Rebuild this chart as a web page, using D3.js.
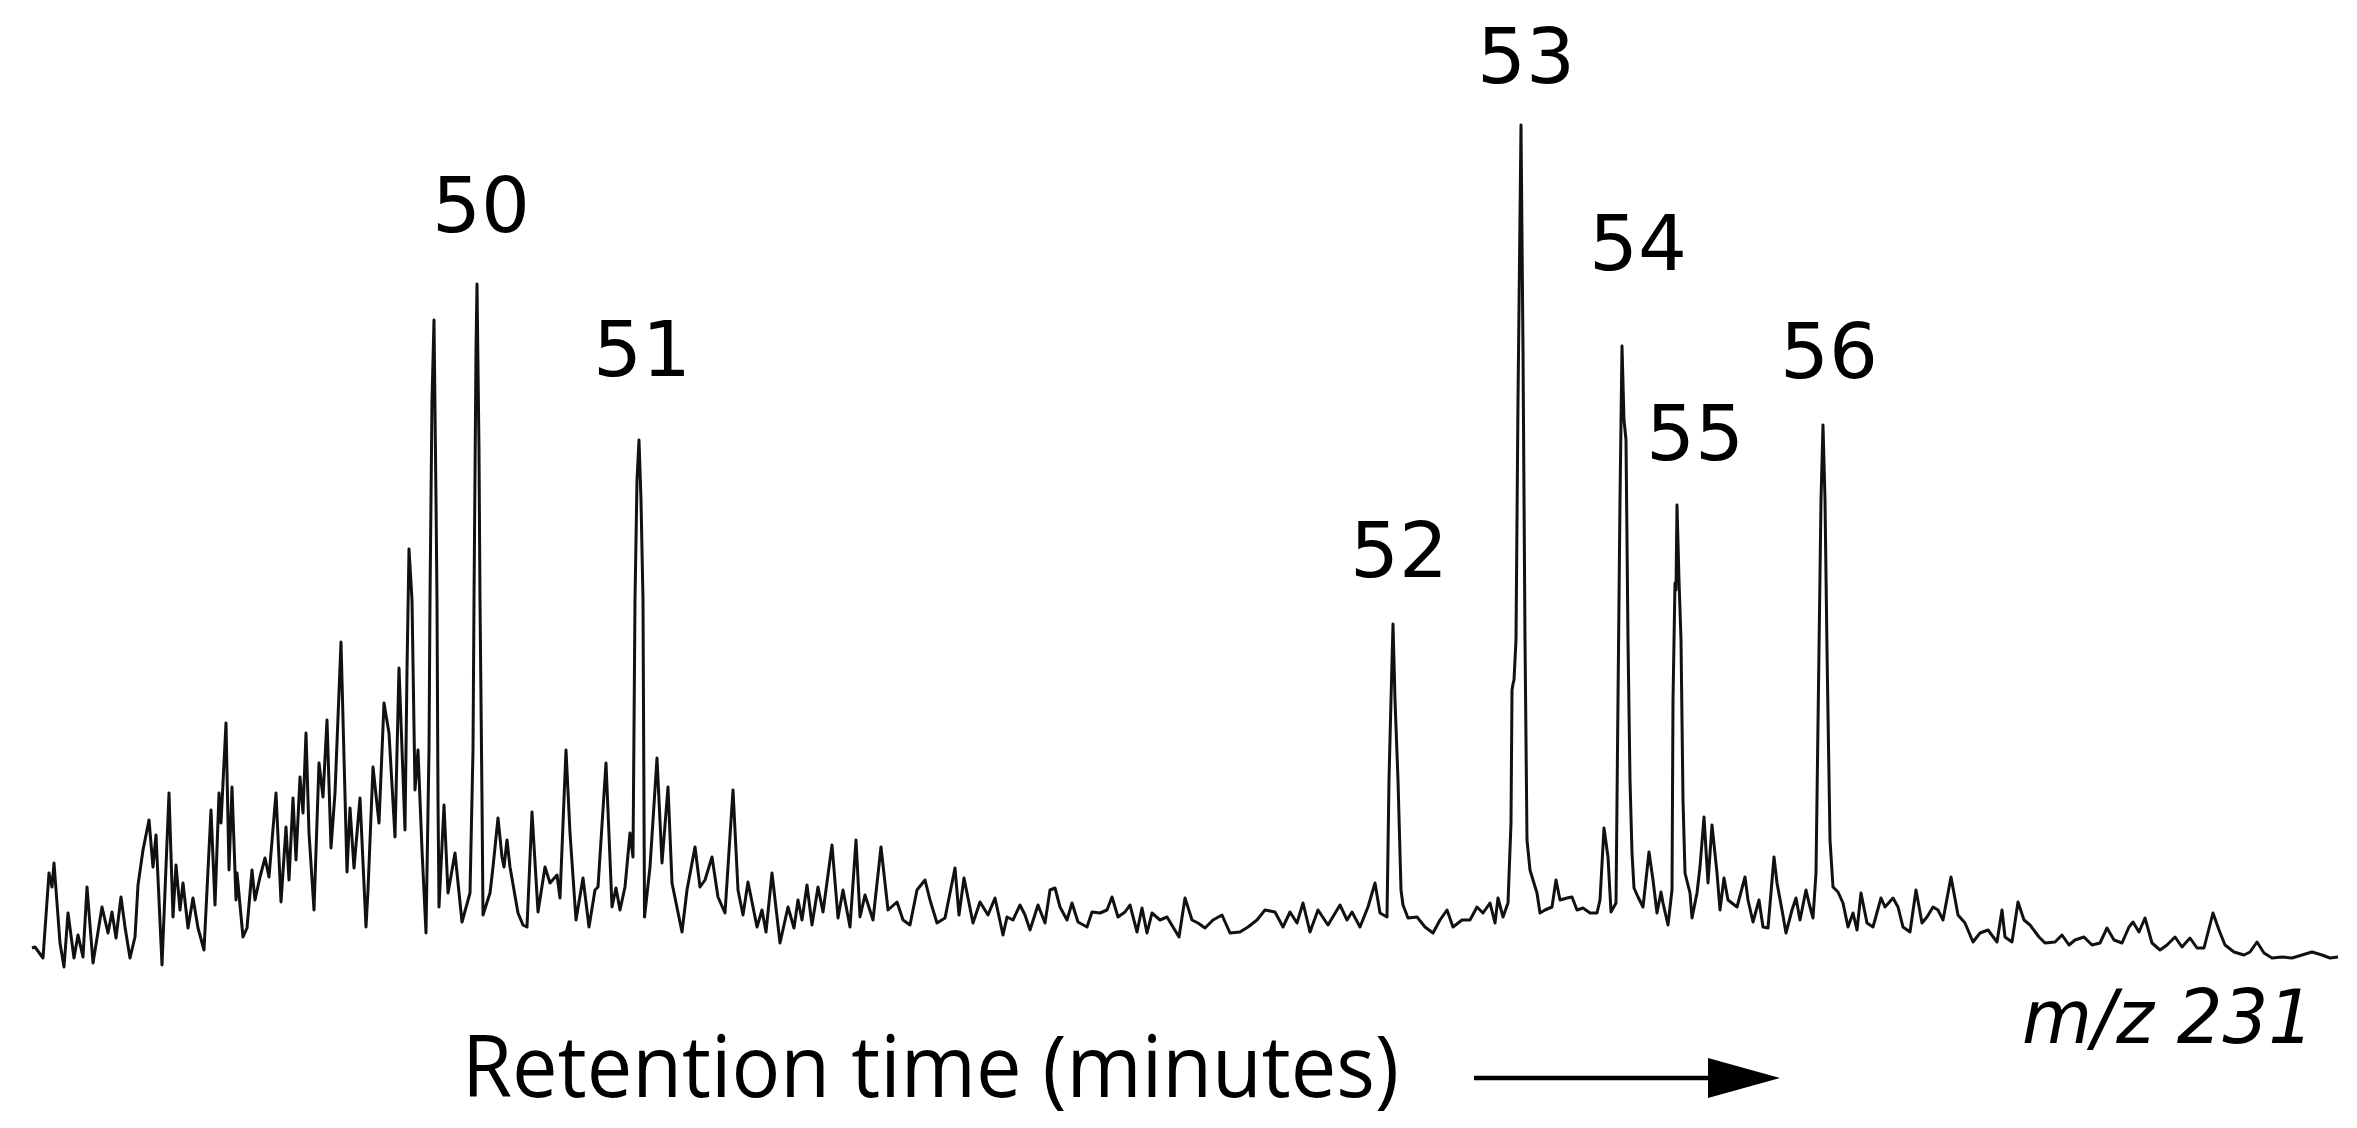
<!DOCTYPE html>
<html>
<head>
<meta charset="utf-8">
<script src="https://cdn.jsdelivr.net/npm/d3@7"></script>
<style>
  body { margin: 0; background: #fff; }
  svg { display: block; }
</style>
</head>
<body>
<div id="chart"></div>
<script>
// m/z 231 ion chromatogram: [scan, abundance]
var trace = [
  [32,52],[35,53],[43,42],[49,127],[52,113],[54,137],[60,57],[64,33],[68,87],[74,42],[78,65],[83,43],[87,113],[93,37],
  [102,93],[108,67],[112,88],[116,62],[121,103],[125,73],[130,42],[135,63],[138,115],[143,150],[149,180],[153,133],[156,165],
  [162,35],[169,207],[173,83],[176,135],[180,90],[183,117],[188,72],[193,102],[198,72],[204,50],[211,190],[215,95],[219,207],
  [221,177],[226,277],[229,130],[232,213],[236,100],[237,127],[243,63],[247,72],[252,130],[255,100],[260,123],[265,142],
  [269,123],[276,207],[281,98],[286,173],[289,120],[293,202],[296,140],[300,223],[303,187],[306,267],[309,167],[314,90],
  [319,237],[323,203],[327,280],[331,152],[335,207],[341,358],[347,128],[350,192],[354,132],[360,202],[366,73],[368,110],
  [373,233],[379,177],[384,297],[389,267],[395,163],[399,332],[405,170],[407,330],[409,451],[412,400],[415,210],[418,250],
  [422,150],[426,67],
  [429,250],[430,400],[432,600],[434,680],[436,500],[437,400],[438,200],[439,93],
  [444,195],[448,107],[455,147],[462,78],[470,107],
  [473,250],[474,400],[476,650],[477,716],[479,550],[480,400],[482,200],[483,85],
  [490,107],[493,133],[498,182],[502,143],[504,133],[507,160],[510,133],[518,87],[523,75],[527,73],[532,188],[538,88],
  [545,133],[550,117],[557,125],[560,102],[566,250],[570,167],[576,80],[583,122],[589,73],[595,110],[598,113],[606,237],
  [612,93],[616,112],[620,90],[625,113],[630,167],[633,143],
  [635,400],[637,520],[639,560],[641,500],[643,400],[644.5,83],
  [650,133],[657,242],[662,137],[668,213],[672,117],[682,68],[687,110],[695,153],[700,113],[705,120],[712,143],[718,103],
  [725,87],[733,210],[738,110],[743,85],[748,118],[757,73],[762,90],[766,68],[772,127],[780,57],[788,93],[794,72],[798,100],
  [802,80],[807,115],[812,75],[818,113],[823,88],[832,155],[838,82],[843,110],[850,73],[856,160],[860,83],[865,105],[873,80],
  [881,153],[888,90],[897,98],[903,80],[910,75],[917,110],[925,120],[930,100],[937,77],[945,82],[955,132],[959,85],[964,122],
  [973,77],[980,98],[988,85],[995,102],[1003,65],
  [1007,83],[1013,80],[1020,95],[1025,85],[1030,70],[1038,95],[1045,77],[1050,110],[1055,112],[1060,93],[1067,80],[1072,97],
  [1078,78],[1087,73],[1092,88],[1100,87],[1107,90],[1112,103],[1118,83],[1125,88],[1130,95],[1137,68],[1142,92],[1147,67],
  [1152,87],[1160,80],[1167,83],[1173,73],[1179,63],[1185,102],[1192,80],[1198,77],[1205,72],[1213,80],[1222,85],[1230,67],
  [1240,68],[1248,73],[1257,80],[1265,90],[1275,88],[1283,73],[1290,88],[1297,77],[1303,97],[1310,68],[1318,90],[1328,75],
  [1340,95],[1347,80],[1352,88],[1360,73],[1368,93],[1375,117],[1380,87],[1387,83],
  [1389,220],[1391,300],[1393,376],[1395,300],[1398,220],[1401,110],
  [1403,95],[1408,82],[1417,83],[1425,73],[1433,67],[1440,80],[1447,90],[1453,73],[1462,80],[1470,80],[1477,93],[1483,87],
  [1490,97],[1495,77],[1498,102],[1503,83],[1508,97],
  [1511,177],[1512,310],[1513,316],[1514,320],[1516,360],[1518,600],[1521,875],[1523,650],[1525,360],[1527,160],
  [1530,130],[1533,120],[1537,107],[1540,87],[1545,90],[1552,93],[1556,120],[1560,100],[1567,102],[1572,103],[1577,90],
  [1583,92],[1590,87],[1597,87],[1600,100],[1604,172],[1608,143],[1611,88],[1616,97],
  [1618,300],[1620,500],[1622,654],[1624,580],[1626,560],[1628,360],[1630,220],[1632,147],
  [1634,112],[1638,103],[1643,93],[1649,148],[1653,120],[1657,87],[1661,108],[1663,97],[1668,75],[1672,110],
  [1673,300],[1675,417],[1676,410],[1677,495],[1679,420],[1681,360],[1683,200],[1685,127],
  [1690,107],[1692,82],[1697,107],[1700,133],[1704,183],[1708,117],[1712,175],[1717,127],[1720,90],[1724,122],[1728,100],
  [1737,93],[1745,123],[1748,100],[1753,78],[1759,100],[1763,73],[1768,72],[1774,143],[1777,117],[1782,90],[1786,67],
  [1792,90],[1796,102],[1800,80],[1806,110],[1809,97],[1813,82],[1816,127],
  [1819,350],[1821,500],[1823,575],[1825,500],[1827,350],[1830,160],
  [1833,113],[1838,108],[1843,97],[1848,73],[1853,87],[1857,70],[1861,107],[1867,77],[1873,73],[1881,102],[1885,93],
  [1893,102],[1898,93],[1903,73],[1910,68],[1916,110],[1922,77],[1927,83],[1933,93],[1938,90],[1943,80],[1951,123],
  [1958,85],[1965,77],[1973,58],[1980,67],[1988,70],[1997,58],[2002,90],
  [2005,63],[2012,58],[2018,98],[2024,80],[2030,75],[2039,63],[2045,57],[2055,58],[2062,65],[2069,55],[2075,60],[2084,63],
  [2092,55],[2100,57],[2107,72],[2114,60],[2122,57],[2129,73],[2133,78],[2139,68],[2145,82],[2152,57],[2160,50],[2167,55],
  [2175,63],[2182,53],[2190,62],[2197,52],[2204,52],[2213,87],[2219,70],[2225,55],[2234,48],[2244,45],[2250,48],[2257,58],
  [2264,47],[2272,42],[2282,43],[2292,42],[2302,45],[2312,48],[2322,45],[2330,42],[2338,43]
];

// peak numbers and where their labels sit (scan, abundance of text baseline)
var peakLabels = ["50", "51", "52", "53", "54", "55", "56"];
var labelScan  = [481, 642, 1399, 1526, 1638, 1695, 1829];
var labelAbund = [768, 624, 423, 917, 730, 540, 622];

var xTitle = "Retention time (minutes)";
var ionLabel = "m/z 231";

var W = 2357, H = 1128;

var svg = d3.select("#chart").append("svg")
    .attr("width", W)
    .attr("height", H);

svg.append("rect").attr("width", W).attr("height", H).attr("fill", "#fff");

// scales
var x = d3.scaleLinear()
    .domain(d3.extent(trace, function(d) { return d[0]; }))
    .range([32, 2338]);
var y = d3.scaleLinear()
    .domain([0, 875])
    .range([1000, 125]);

var line = d3.line()
    .x(function(d) { return x(d[0]); })
    .y(function(d) { return y(d[1]); });

svg.append("path")
    .datum(trace)
    .attr("fill", "none")
    .attr("stroke", "#111")
    .attr("stroke-width", 3)
    .attr("stroke-linejoin", "round")
    .attr("d", line);

// peak numbers
svg.selectAll(".peak-label")
    .data(peakLabels)
    .enter().append("text")
    .attr("class", "peak-label")
    .attr("x", function(d, i) { return x(labelScan[i]); })
    .attr("y", function(d, i) { return y(labelAbund[i]); })
    .attr("text-anchor", "middle")
    .style("font-family", "'DejaVu Sans', Verdana, sans-serif")
    .style("font-size", "77px")
    .attr("fill", "#000")
    .text(function(d) { return d; });

// ion label, bottom right
svg.append("text")
    .attr("x", 2022)
    .attr("y", 1043)
    .attr("textLength", 292)
    .attr("lengthAdjust", "spacingAndGlyphs")
    .style("font-family", "'DejaVu Sans', Verdana, sans-serif")
    .style("font-style", "italic")
    .style("font-size", "75px")
    .text(ionLabel);

// axis title with arrow
svg.append("text")
    .attr("x", 462)
    .attr("y", 1097)
    .attr("textLength", 937)
    .attr("lengthAdjust", "spacingAndGlyphs")
    .style("font-family", "'Open Sans', 'Noto Sans', sans-serif")
    .style("font-size", "86px")
    .text(xTitle);

svg.append("line")
    .attr("x1", 1474).attr("x2", 1720)
    .attr("y1", 1078).attr("y2", 1078)
    .attr("stroke", "#000")
    .attr("stroke-width", 4.5);

svg.append("path")
    .attr("d", d3.line()([[1708, 1058], [1780, 1078], [1708, 1098]]) + "Z")
    .attr("fill", "#000");
</script>
</body>
</html>
